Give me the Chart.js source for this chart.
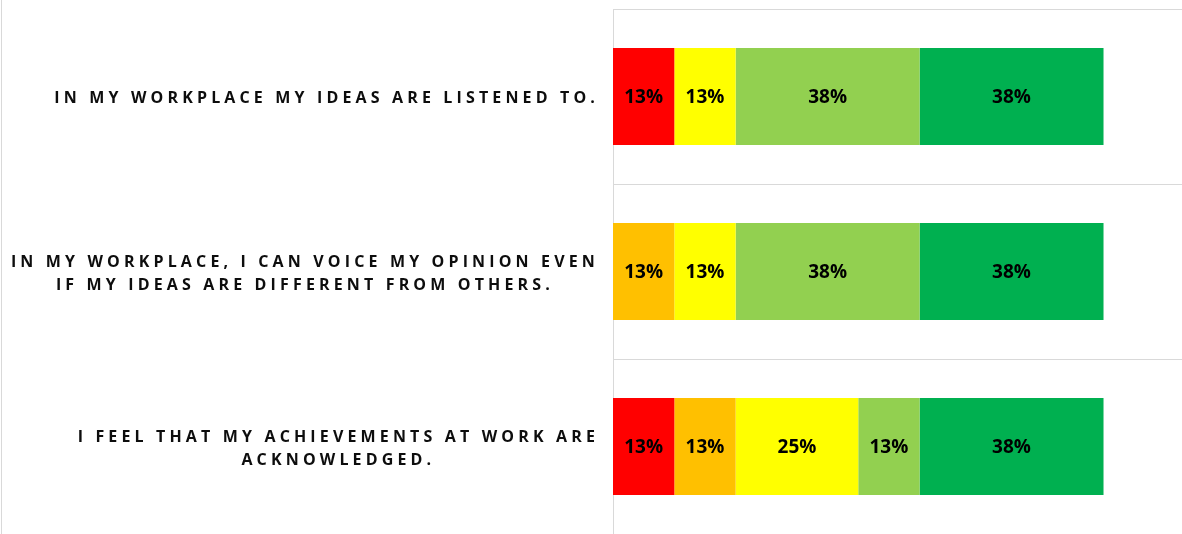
<!DOCTYPE html>
<html>
<head>
<meta charset="utf-8">
<script src="https://cdn.jsdelivr.net/npm/chart.js@4.4.0/dist/chart.umd.min.js"></script>
<style>
  html, body { margin: 0; padding: 0; background: #ffffff; overflow: hidden; }
  #wrap { position: relative; width: 1182px; height: 534px; }
</style>
</head>
<body>
<div id="wrap"><canvas id="c"></canvas></div>
<script>
const categories = [
  ["IN MY WORKPLACE MY IDEAS ARE LISTENED TO."],
  ["IN MY WORKPLACE, I CAN VOICE MY OPINION EVEN", "IF MY IDEAS ARE DIFFERENT FROM OTHERS."],
  ["I FEEL THAT MY ACHIEVEMENTS AT WORK ARE", "ACKNOWLEDGED."]
];
const seriesNames = ["Strongly disagree", "Disagree", "Neutral", "Agree", "Strongly agree"];
const stronglyDisagree = [0.125, 0, 0.125];
const disagree = [0, 0.125, 0.125];
const neutral = [0.125, 0.125, 0.25];
const agree = [0.375, 0.375, 0.125];
const stronglyAgree = [0.375, 0.375, 0.375];
const seriesColors = ["#FF0000", "#FFC000", "#FFFF00", "#92D050", "#00B050"];

const seriesValues = [stronglyDisagree, disagree, neutral, agree, stronglyAgree];

const valueLabels = {
  id: 'valueLabels',
  afterDatasetsDraw(chart) {
    const ctx = chart.ctx;
    ctx.save();
    ctx.font = 'bold 19px "Open Sans"';
    ctx.fillStyle = '#000000';
    ctx.textAlign = 'center';
    ctx.textBaseline = 'middle';
    chart.data.datasets.forEach((ds, di) => {
      const meta = chart.getDatasetMeta(di);
      meta.data.forEach((bar, i) => {
        const v = ds.data[i];
        if (!v) return;
        const p = bar.getProps(['x', 'base', 'y'], true);
        ctx.fillText(Math.round(v * 100) + '%', (p.x + p.base) / 2, p.y + 1);
      });
    });
    ctx.restore();
  }
};

const categoryLabels = {
  id: 'categoryLabels',
  afterDraw(chart) {
    const ctx = chart.ctx;
    const yScale = chart.scales.y;
    ctx.save();
    // left frame line
    ctx.strokeStyle = '#d9d9d9';
    ctx.lineWidth = 1;
    ctx.beginPath();
    ctx.moveTo(1.5, 0);
    ctx.lineTo(1.5, chart.height);
    ctx.stroke();

    ctx.font = 'bold 16px "Open Sans"';
    ctx.letterSpacing = '4.15px';
    ctx.fillStyle = '#0d0d0d';
    ctx.textAlign = 'center';
    ctx.textBaseline = 'middle';
    const right = 599;
    const lineH = 23;
    categories.forEach((lines, i) => {
      const cy = yScale.getPixelForValue(i);
      let w = 0;
      lines.forEach(l => { w = Math.max(w, ctx.measureText(l).width); });
      const cx = right - w / 2;
      const top = cy - (lines.length - 1) * lineH / 2;
      lines.forEach((l, k) => {
        ctx.fillText(l, cx, top + k * lineH + 2);
      });
    });
    ctx.restore();
  }
};

new Chart(document.getElementById('c'), {
  type: 'bar',
  data: {
    labels: categories,
    datasets: seriesNames.map((name, k) => ({
      label: name,
      data: seriesValues[k],
      backgroundColor: seriesColors[k],
      borderWidth: 0,
      barPercentage: 0.555,
      categoryPercentage: 1.0
    }))
  },
  options: {
    indexAxis: 'y',
    responsive: true,
    maintainAspectRatio: false,
    animation: false,
    events: [],
    layout: { padding: { top: 9, left: 0, right: 0, bottom: 0 } },
    plugins: {
      legend: { display: false },
      tooltip: { enabled: false }
    },
    scales: {
      x: {
        display: false,
        stacked: true,
        min: 0,
        max: 1.16
      },
      y: {
        stacked: true,
        offset: true,
        ticks: { display: false },
        grid: {
          offset: true,
          drawTicks: false,
          color: (c) => (c.index === 3 ? 'rgba(0,0,0,0)' : '#d9d9d9'),
          lineWidth: 1
        },
        border: { display: true, color: '#d9d9d9', width: 1 },
        afterFit(scale) { scale.width = 613; }
      }
    }
  },
  plugins: [valueLabels, categoryLabels]
});
</script>
</body>
</html>
